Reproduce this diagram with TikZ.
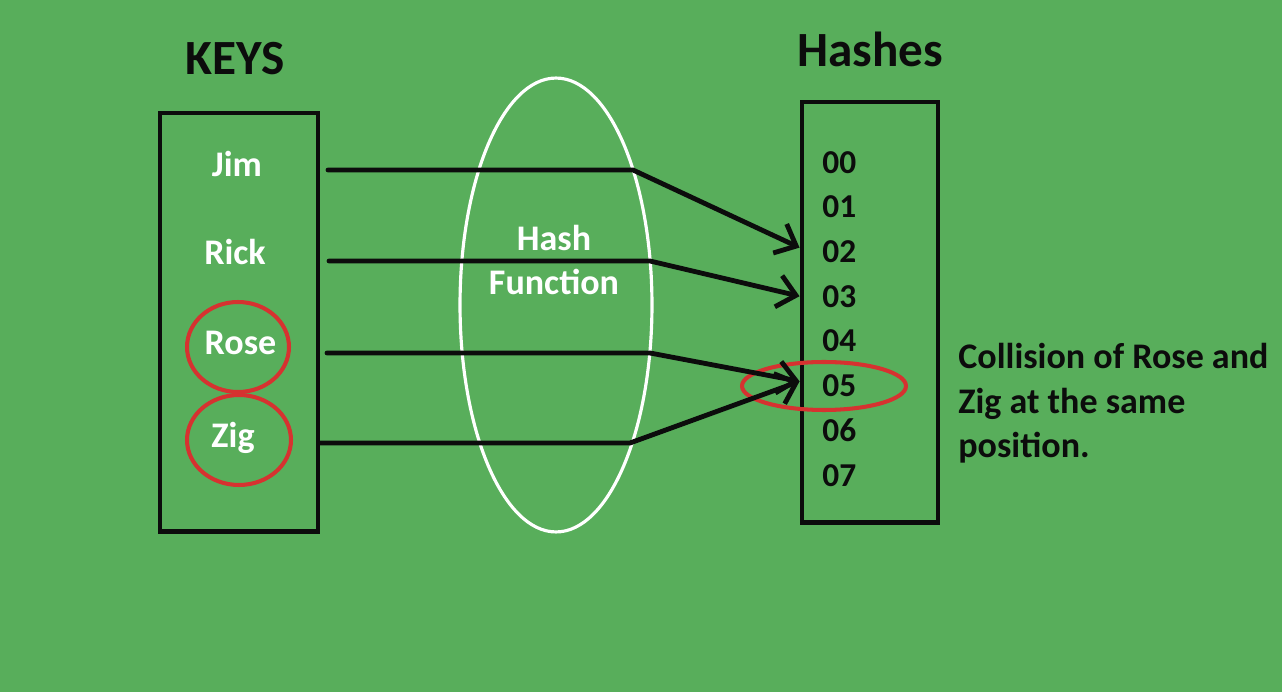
\documentclass[tikz,border=0pt]{standalone}
\usepackage{fontspec}
\setmainfont{Carlito}
\usepackage{tikz}
\usetikzlibrary{shapes.geometric, arrows.meta, positioning}
\definecolor{BgGreen}{RGB}{88, 174, 91}
\definecolor{RingRed}{RGB}{214, 50, 48}
\definecolor{InkBlack}{RGB}{12, 12, 12}
\tikzset{
  head/.style={font=\fontsize{28}{32}\selectfont\bfseries, text=InkBlack,
    anchor=base, inner sep=0pt},
  keylbl/.style={font=\fontsize{20.5}{25.5}\selectfont\bfseries, text=white,
    anchor=base, inner sep=0pt},
  hashnum/.style={font=\fontsize{19}{22}\selectfont\bfseries, text=InkBlack,
    inner sep=0pt},
  note/.style={font=\fontsize{20.5}{25.5}\selectfont\bfseries, text=InkBlack,
    align=left, anchor=base west, inner sep=0pt},
  box/.style={rectangle, draw=InkBlack, line width=2.8pt, inner sep=0pt},
  hashfn/.style={ellipse, draw=white, line width=1.8pt, inner sep=0pt},
  ring/.style={ellipse, draw=RingRed, line width=2.3pt, inner sep=0pt},
  arr/.style={-{Straight Barb[length=0.36cm, width=0.64cm]}, line width=2.75pt,
    color=InkBlack, line cap=round, line join=round},
}

\begin{document}
\begin{tikzpicture}[x=0.02cm, y=-0.02cm]
  \fill[BgGreen] (0,0) rectangle (1282,692);
  % hash function ellipse
  \node[hashfn, minimum width=3.84cm, minimum height=9.08cm] (hf) at (556,305) {};
  \node[keylbl, align=center] (hflbl) at (554,295) {Hash\\Function};
  % keys column
  \node[head] (keyshead) at (235,75) {KEYS};
  \node[box, minimum width=3.16cm, minimum height=8.38cm] (keybox) at (239,322.5) {};
  \node[keylbl] (jim) at (237,177) {Jim};
  \node[keylbl] (rick) at (235,265) {Rick};
  \node[keylbl] (rose) at (240.5,355) {Rose};
  \node[keylbl] (zig) at (233,448) {Zig};
  \node[ring, minimum width=2.04cm, minimum height=1.8cm] (rosering) at (238,347) {};
  \node[ring, minimum width=2.08cm, minimum height=1.8cm] (zigring) at (239,440) {};
  % hashes column
  \node[head] (hasheshead) at (870,67) {Hashes};
  \node[box, minimum width=2.72cm, minimum height=8.42cm] (hashbox) at (870,312.5) {};
  \node[hashnum, anchor=west] (h00) at (822,162.5) {00};
  \node[hashnum, below=0.435cm of h00] (h01) {01};
  \node[hashnum, below=0.435cm of h01] (h02) {02};
  \node[hashnum, below=0.435cm of h02] (h03) {03};
  \node[hashnum, below=0.435cm of h03] (h04) {04};
  \node[hashnum, below=0.435cm of h04] (h05) {05};
  \node[hashnum, below=0.435cm of h05] (h06) {06};
  \node[hashnum, below=0.435cm of h06] (h07) {07};
  \node[ring, minimum width=3.28cm, minimum height=0.96cm] (collring) at (824,386) {};
  \node[note] (collnote) at (958,458)
    {Collision of Rose and\\Zig at the same\\position.};
  % key -> hash arrows
  \coordinate (jimout) at (328,170);
  \coordinate (jimbend) at (633,170);
  \coordinate (rickout) at (329,261);
  \coordinate (rickbend) at (650,261);
  \coordinate (roseout) at (327,353);
  \coordinate (rosebend) at (650,353);
  \coordinate (zigbend) at (630,443);
  \draw[arr] (jimout) -- (jimbend) -- ([yshift=0.08cm]hashbox.west |- h02);
  \draw[arr] (rickout) -- (rickbend) -- (hashbox.west |- h03);
  \draw[arr] (roseout) -- (rosebend) -- ([yshift=0.08cm]hashbox.west |- h05);
  \draw[arr] (keybox.east |- zigbend) -- (zigbend) -- ([yshift=0.08cm]hashbox.west |- h05);
\end{tikzpicture}
\end{document}
